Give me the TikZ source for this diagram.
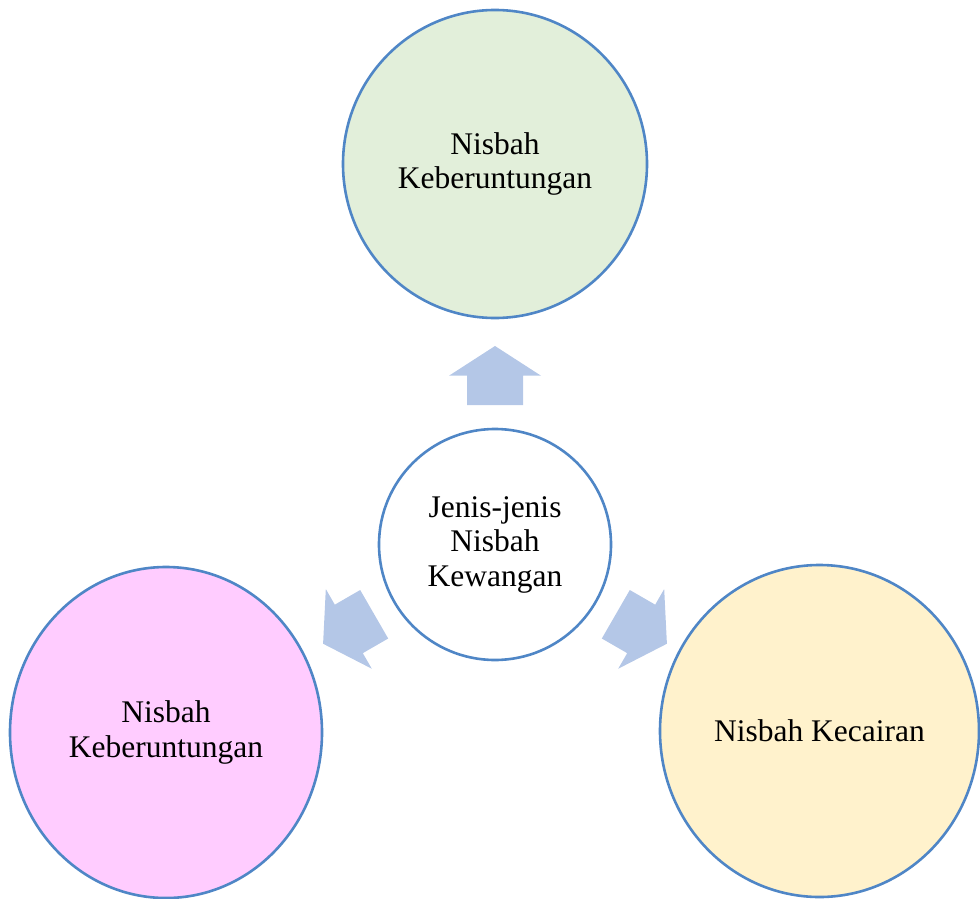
\documentclass[tikz,border=0pt]{standalone}
\usepackage{fontspec}
\setmainfont{Liberation Serif}
\usetikzlibrary{shapes.geometric}
\definecolor{edgeblue}{RGB}{79,134,198}
\definecolor{arrowblue}{RGB}{180,199,231}
\definecolor{fillgreen}{RGB}{226,239,218}
\definecolor{fillpink}{RGB}{255,204,255}
\definecolor{fillyellow}{RGB}{255,242,204}
\begin{document}
\begin{tikzpicture}[x=1pt,y=-1pt,
  bubble/.style={ellipse, draw=edgeblue, line width=2.6pt, inner sep=0pt, align=center,
    font=\fontsize{31.5}{34.5}\selectfont},
  blockarrow/.style={fill=arrowblue, draw=none}]
\useasboundingbox (0,0) rectangle (980,899);
\node[bubble, fill=white, minimum width=232pt, minimum height=231pt] (c) at (495,544.5) {Jenis-jenis\\Nisbah\\Kewangan};
\node[bubble, fill=fillgreen, minimum width=304pt, minimum height=308pt] (t) at (495,164) {Nisbah\\Keberuntungan};
\node[bubble, fill=fillpink, minimum width=312pt, minimum height=331pt] (l) at (166,732.5) {Nisbah\\Keberuntungan};
\node[bubble, fill=fillyellow, minimum width=319pt, minimum height=332pt] (r) at (819.5,731) {Nisbah Kecairan};
\foreach \ang in {90,210,330}{
  \begin{scope}[shift={(c.center)}, x=1pt, y=1pt, rotate=\ang]
    \fill[blockarrow] (139.5,-28) -- (168.8,-28) -- (168.8,-46) -- (198.5,0)
      -- (168.8,46) -- (168.8,28) -- (139.5,28) -- cycle;
  \end{scope}
}
\end{tikzpicture}
\end{document}
